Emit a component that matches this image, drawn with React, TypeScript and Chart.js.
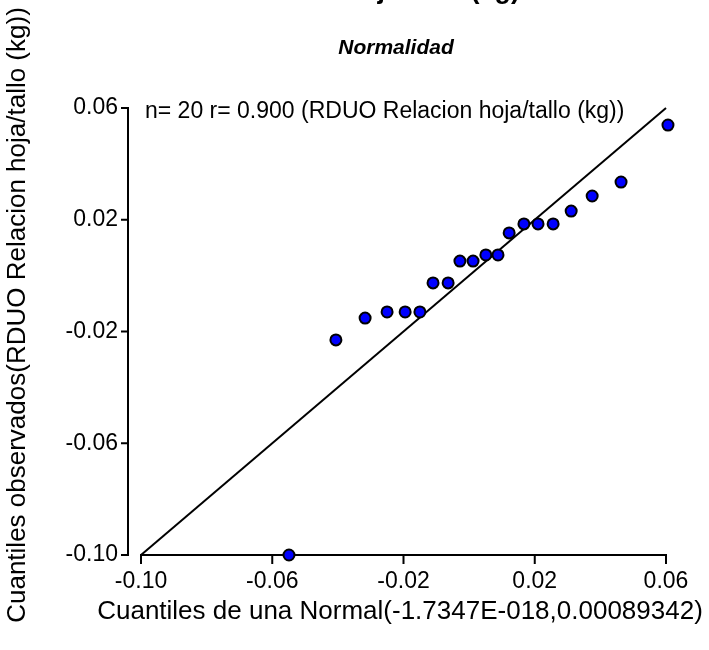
import React, { useEffect, useRef } from "react";
import { Chart, registerables } from "chart.js";

Chart.register(...registerables);

const theoreticalQuantiles = [
  -0.0549, -0.0406, -0.0317, -0.025, -0.0195, -0.015, -0.011, -0.0064, -0.0028, 0.0012,
  0.0051, 0.0088, 0.0122, 0.0167, 0.021, 0.0256, 0.0311, 0.0375, 0.0463, 0.0606,
];
const observedQuantiles = [
  -0.1, -0.023, -0.0152, -0.013, -0.013, -0.013, -0.0026, -0.0026, 0.0052, 0.0052,
  0.0074, 0.0074, 0.0153, 0.0185, 0.0185, 0.0185, 0.0231, 0.0285, 0.0335, 0.0539,
];
// Reference (identity) line end points
const refLineX = [-0.1, 0.06];
const refLineY = [-0.1, 0.06];

const xTickValues = [-0.1, -0.06, -0.02, 0.02, 0.06];
const xTickLabels = ["-0.10", "-0.06", "-0.02", "0.02", "0.06"];
const yTickValues = [-0.1, -0.06, -0.02, 0.02, 0.06];
const yTickLabels = ["-0.10", "-0.06", "-0.02", "0.02", "0.06"];

const topTitle = "Relacion hoja/tallo (kg)";
const subTitle = "Normalidad";
const annotation = "n= 20 r= 0.900 (RDUO Relacion hoja/tallo (kg))";
const xTitle = "Cuantiles de una Normal(-1.7347E-018,0.00089342)";
const yTitle = "Cuantiles observados(RDUO Relacion hoja/tallo (kg))";

const FONT = '"Liberation Sans", Arial, Helvetica, sans-serif';

const decorPlugin = {
  id: "decor",
  beforeDatasetsDraw(chart: any) {
    const { ctx, chartArea, scales } = chart;
    const xs = scales.x;
    const ys = scales.y;
    ctx.save();
    ctx.strokeStyle = "#000";
    ctx.lineWidth = 2;
    ctx.lineCap = "butt";
    // y axis (detached, left of plot area)
    const ax = chartArea.left - 13;
    ctx.beginPath();
    ctx.moveTo(ax, ys.getPixelForValue(yTickValues[yTickValues.length - 1]) - 1);
    ctx.lineTo(ax, ys.getPixelForValue(yTickValues[0]) + 1);
    yTickValues.forEach((v) => {
      const py = ys.getPixelForValue(v);
      ctx.moveTo(ax + 1, py);
      ctx.lineTo(ax - 7, py);
    });
    ctx.stroke();
    // x axis
    const ay = chartArea.bottom;
    ctx.beginPath();
    ctx.moveTo(xs.getPixelForValue(xTickValues[0]) - 1, ay);
    ctx.lineTo(xs.getPixelForValue(xTickValues[xTickValues.length - 1]) + 1, ay);
    xTickValues.forEach((v) => {
      const px = xs.getPixelForValue(v);
      ctx.moveTo(px, ay - 1);
      ctx.lineTo(px, ay + 9);
    });
    ctx.stroke();
    ctx.restore();
  },
  afterDraw(chart: any) {
    const { ctx, chartArea } = chart;
    ctx.save();
    ctx.fillStyle = "#000";
    // clipped main title
    ctx.font = `bold 27px ${FONT}`;
    ctx.textAlign = "right";
    ctx.textBaseline = "alphabetic";
    ctx.fillText(topTitle, 520, -2);
    // subtitle
    ctx.font = `italic bold 21px ${FONT}`;
    ctx.textAlign = "center";
    ctx.textBaseline = "middle";
    ctx.fillText(subTitle, 396, 48);
    // annotation
    ctx.font = `23px ${FONT}`;
    ctx.textAlign = "left";
    ctx.fillText(annotation, chartArea.left + 4, 112);
    // x title
    ctx.font = `26px ${FONT}`;
    ctx.textAlign = "center";
    ctx.fillText(xTitle, 400, 612);
    // y title
    ctx.translate(18, 315);
    ctx.rotate(-Math.PI / 2);
    ctx.fillText(yTitle, 0, 0);
    ctx.restore();
  },
};

export default function App() {
  const ref = useRef<HTMLCanvasElement>(null);
  useEffect(() => {
    if (!ref.current) return;
    const chart = new Chart(ref.current, {
      type: "scatter",
      data: {
        datasets: [
          {
            label: "Cuantiles",
            data: theoreticalQuantiles.map((x, i) => ({ x, y: observedQuantiles[i] })),
            backgroundColor: "#0000ff",
            borderColor: "#000",
            borderWidth: 2,
            pointRadius: 5.5,
            clip: false as any,
          },
          {
            type: "line" as any,
            label: "Referencia",
            data: refLineX.map((x, i) => ({ x, y: refLineY[i] })),
            borderColor: "#000",
            borderWidth: 2,
            pointRadius: 0,
            fill: false,
            showLine: true,
            clip: false as any,
          },
        ],
      },
      options: {
        responsive: false,
        animation: false,
        devicePixelRatio: 1,
        layout: { padding: { top: 108, right: 43, left: 0, bottom: 0 } },
        plugins: {
          legend: { display: false },
          tooltip: { enabled: false },
          title: { display: false },
        },
        scales: {
          x: {
            type: "linear",
            position: "bottom",
            min: -0.1,
            max: 0.06,
            grid: { display: false, drawTicks: false },
            border: { display: false },
            afterFit: (s: any) => {
              s.height = 95;
            },
            afterBuildTicks: (s: any) => {
              s.ticks = xTickValues.map((v) => ({ value: v }));
            },
            ticks: {
              autoSkip: false,
              maxRotation: 0,
              minRotation: 0,
              padding: 13,
              color: "#000",
              font: { family: FONT, size: 23 },
              callback: (v: any) => {
                const i = xTickValues.findIndex((t) => Math.abs(t - Number(v)) < 1e-9);
                return i >= 0 ? xTickLabels[i] : "";
              },
            },
          },
          y: {
            type: "linear",
            position: "left",
            min: -0.1,
            max: 0.06,
            grid: { display: false, drawTicks: false },
            border: { display: false },
            afterFit: (s: any) => {
              s.width = 141;
            },
            afterBuildTicks: (s: any) => {
              s.ticks = yTickValues.map((v) => ({ value: v }));
            },
            ticks: {
              autoSkip: false,
              padding: 23,
              color: "#000",
              font: { family: FONT, size: 23 },
              callback: (v: any) => {
                const i = yTickValues.findIndex((t) => Math.abs(t - Number(v)) < 1e-9);
                return i >= 0 ? yTickLabels[i] : "";
              },
            },
          },
        },
      },
      plugins: [decorPlugin],
    } as any);
    return () => chart.destroy();
  }, []);
  return (
    <div style={{ position: "absolute", left: 0, top: 0, width: 709, height: 650, background: "#fff" }}>
      <canvas ref={ref} width={709} height={650} style={{ display: "block", width: 709, height: 650 }} />
    </div>
  );
}
